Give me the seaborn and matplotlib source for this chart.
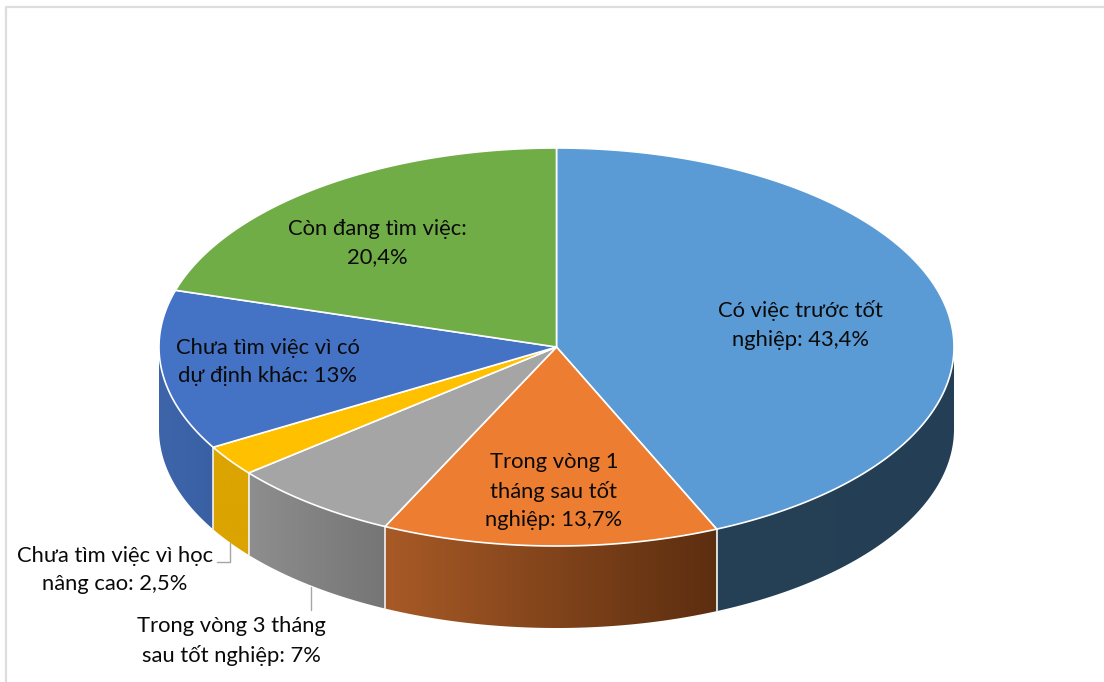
#!/usr/bin/env python
"""3D-style pie chart: graduate employment timing"""

import matplotlib
matplotlib.use('Agg')
import matplotlib.pyplot as plt
import numpy as np
import seaborn as sns
from matplotlib.colors import LinearSegmentedColormap
from matplotlib.patches import Polygon

# data, clockwise from 12 o'clock
labels = ['Có việc trước tốt\nnghiệp: 43,4%',
          'Trong vòng 1\ntháng sau tốt\nnghiệp: 13,7%',
          'Trong vòng 3 tháng\nsau tốt nghiệp: 7%',
          'Chưa tìm việc vì học\nnâng cao: 2,5%',
          'Chưa tìm việc vì có\ndự định khác: 13%',
          'Còn đang tìm việc:\n20,4%']
values = [43.4, 13.7, 7, 2.5, 13, 20.4]
top_colors = ['#5B9BD5', '#ED7D31', '#A5A5A5', '#FFC000', '#4472C4', '#70AD47']
wall_left = ['#264055', '#A85A26', '#8E8E8E', '#DBA400', '#3E65AA', '#70AD47']
wall_right = ['#243F55', '#5C2E10', '#757575', '#DBA400', '#3A60A4', '#70AD47']
label_pos = [(800, 325), (554, 491), (231, 641), (115, 570), (268, 362), (377, 243)]

# pie geometry in pixels
CX, CY = 556.5, 347
RX, RY = 397.5, 199
DEPTH = 82

sns.set_theme(style='white')
plt.rcParams['font.family'] = ['Lato', 'Open Sans', 'DejaVu Sans']

fig, ax = plt.subplots(figsize=(11.04, 6.82), dpi=100)
fig.subplots_adjust(0, 0, 1, 1)
ax.set_axis_off()


def rim(a, b, n=200):
    t = np.linspace(a, b, n)
    return np.column_stack([CX + RX * np.sin(t), CY - RY * np.cos(t)])


edges = 2 * np.pi * np.cumsum([0] + values) / sum(values)

# side walls, only the part facing the viewer
for i in range(len(values)):
    a, b = max(edges[i], np.pi / 2), min(edges[i + 1], 3 * np.pi / 2)
    if a >= b:
        continue
    upper = rim(a, b)
    lower = upper[::-1] + [0, DEPTH]
    wall = Polygon(np.vstack([upper, lower]), closed=True, fc='none', ec='none',
                   transform=ax.transData)
    ax.add_patch(wall)
    # x runs right to left along the front rim, so orient the gradient by screen x
    x0, x1 = upper[:, 0].min(), upper[:, 0].max()
    y0, y1 = upper[:, 1].min(), upper[:, 1].max() + DEPTH
    cmap = LinearSegmentedColormap.from_list('w', [wall_left[i], wall_right[i]])
    im = ax.imshow(np.linspace(0, 1, 256).reshape(1, -1), cmap=cmap, aspect='auto',
                   extent=(x0, x1, y1, y0), zorder=2)
    im.set_clip_path(wall)
    # white seam where two slices meet
    if edges[i] > np.pi / 2:
        ax.plot([upper[0, 0]] * 2, [upper[0, 1], upper[0, 1] + DEPTH],
                color='#F2F2F2', lw=1.2, zorder=3)

# top faces
for i in range(len(values)):
    pts = np.vstack([[CX, CY], rim(edges[i], edges[i + 1])])
    ax.add_patch(Polygon(pts, closed=True, fc=top_colors[i], ec='white', lw=1.2,
                         joinstyle='round', zorder=4))

# leader lines
ax.plot([217, 230, 230], [562, 562, 543], color='#A6A6A6', lw=1, zorder=5)
ax.plot([311, 311], [587, 610], color='#A6A6A6', lw=1, zorder=5)

for text, (x, y) in zip(labels, label_pos):
    ax.text(x, y, text, ha='center', va='center', fontsize=15.8, color='#0A0A0A',
            linespacing=1.52, zorder=6)

# thin chart-area frame, left and top only
ax.plot([6, 6, 1104], [682, 6.5, 6.5], color='#DDDDDD', lw=1.6, zorder=1)

ax.set_xlim(0, 1104)
ax.set_ylim(682, 0)
plt.savefig('out.png', dpi=100)
